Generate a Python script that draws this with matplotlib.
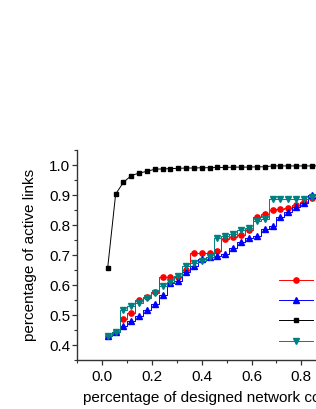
import matplotlib
matplotlib.use("Agg")
import matplotlib.pyplot as plt
from matplotlib.ticker import MultipleLocator

plt.rcParams['font.family'] = ['Liberation Sans', 'DejaVu Sans']

# fraction of designed network (same x grid for all four runs)
coverage = [0.022, 0.054, 0.085, 0.117, 0.148, 0.180, 0.211, 0.243, 0.274,
            0.306, 0.337, 0.369, 0.400, 0.432, 0.463, 0.495, 0.526, 0.558,
            0.589, 0.621, 0.652, 0.684, 0.715, 0.747, 0.778, 0.810, 0.841,
            0.873]

red_links = [0.430, 0.445, 0.486, 0.506, 0.550, 0.560, 0.576, 0.626, 0.626,
             0.628, 0.651, 0.708, 0.708, 0.708, 0.715, 0.755, 0.760, 0.768,
             0.782, 0.828, 0.836, 0.851, 0.854, 0.856, 0.867, 0.878, 0.891,
             0.900]
blue_links = [0.430, 0.444, 0.464, 0.481, 0.496, 0.517, 0.537, 0.567, 0.606,
              0.615, 0.645, 0.662, 0.686, 0.693, 0.696, 0.704, 0.725, 0.743,
              0.757, 0.765, 0.788, 0.798, 0.826, 0.844, 0.861, 0.873, 0.900,
              0.910]
black_links = [0.657, 0.903, 0.942, 0.965, 0.973, 0.979, 0.986, 0.987, 0.988,
               0.989, 0.990, 0.990, 0.991, 0.991, 0.992, 0.992, 0.993, 0.993,
               0.993, 0.994, 0.994, 0.997, 0.997, 0.997, 0.997, 0.997, 0.997,
               0.997]
teal_links = [0.430, 0.445, 0.517, 0.529, 0.539, 0.556, 0.574, 0.596, 0.609,
              0.629, 0.662, 0.672, 0.680, 0.694, 0.756, 0.763, 0.771, 0.783,
              0.790, 0.812, 0.820, 0.886, 0.886, 0.886, 0.886, 0.886, 0.892,
              0.900]

labels = ['random', 'degree', 'optimal', 'betweenness']

fig = plt.figure(figsize=(3.16, 4.09), dpi=100)
# axes runs past the right edge of the figure, like the cropped original
ax = fig.add_axes([0.2446, 0.1198, 0.9456, 0.5134])

ax.plot(coverage, red_links, color='red', lw=0.7, drawstyle='steps-mid',
        marker='o', ms=3.8, mec='red', label=labels[0])
ax.plot(coverage, blue_links, color='blue', lw=0.7, drawstyle='steps-mid',
        marker='^', ms=4.2, mec='blue', label=labels[1])
ax.plot(coverage, black_links, color='black', lw=0.7,
        marker='s', ms=3.3, mec='black', label=labels[2])
ax.plot(coverage, teal_links, color='#008080', lw=0.7, drawstyle='steps-mid',
        marker='v', ms=4.2, mec='#008080', label=labels[3])

ax.set_xlim(-0.1, 1.1)
ax.set_ylim(0.35, 1.05)
ax.xaxis.set_major_locator(MultipleLocator(0.2))
ax.xaxis.set_minor_locator(MultipleLocator(0.1))
ax.yaxis.set_major_locator(MultipleLocator(0.1))
ax.yaxis.set_minor_locator(MultipleLocator(0.05))
ax.xaxis.set_major_formatter(lambda v, p: f"{v:.1f}")
ax.yaxis.set_major_formatter(lambda v, p: f"{v:.1f}")

ax.spines['top'].set_visible(False)
for s in ('left', 'bottom', 'right'):
    ax.spines[s].set_linewidth(1.0)
    ax.spines[s].set_color('#333333')
ax.tick_params(which='major', direction='out', length=3.5, width=0.9,
               labelsize=11, pad=1.5, color='#333333')
ax.tick_params(which='minor', direction='out', length=2, width=0.8,
               color='#333333')
ax.tick_params(axis='x', which='major', pad=3.5)
ax.tick_params(right=False, which='both')

ax.set_ylabel('percentage of active links', fontsize=11)
ax.yaxis.set_label_coords(-0.135, 0.5)
ax.set_xlabel('percentage of designed network coverage', fontsize=11,
              ha='left', va='center')
ax.xaxis.set_label_coords(0.019, -0.18)

ax.legend(loc='upper left', bbox_to_anchor=(0.674, 0.411), frameon=False,
          fontsize=10, handlelength=2.5, labelspacing=0.45, borderpad=0,
          borderaxespad=0, handletextpad=0.6)

fig.savefig('out.png', dpi=100)
